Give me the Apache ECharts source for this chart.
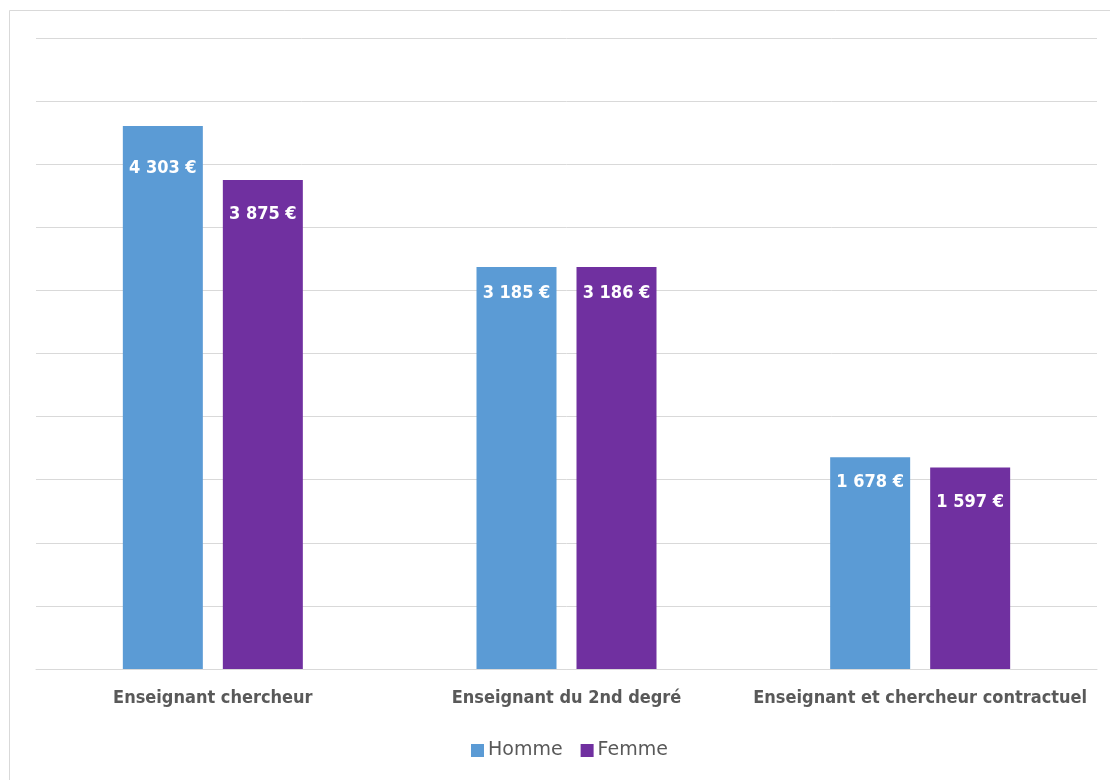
<!DOCTYPE html>
<html>
<head>
<meta charset="utf-8">
<style>
  html, body { margin: 0; padding: 0; background: #ffffff; }
  #chart { width: 1110px; height: 780px; }
</style>
<script src="https://cdn.jsdelivr.net/npm/echarts@6/dist/echarts.min.js"></script>
</head>
<body>
<div id="chart"></div>
<script>
// Salaire net mensuel moyen par statut et par sexe
const categories = ['Enseignant chercheur', 'Enseignant du 2nd degré', 'Enseignant et chercheur contractuel'];
const homme = [4303, 3185, 1678];
const femme = [3875, 3186, 1597];
const seriesNames = ['Homme', 'Femme'];

// Vertical drop of each value label below its bar top
const hommeLabelDrop = [33, 17, 16];
const femmeLabelDrop = [25, 17, 26];

const BOLD_FONT = '"DejaVu Sans Condensed", "DejaVu Sans", sans-serif';
const LEGEND_FONT = '"DejaVu Sans", sans-serif';

function euro(v) {
  return String(v).replace(/\B(?=(\d{3})+(?!\d))/g, ' ') + ' €';
}

function buildData(values, drops) {
  return values.map((v, i) => ({
    value: v,
    label: { distance: drops[i] }
  }));
}

const labelStyle = {
  show: true,
  position: 'insideTop',
  color: '#ffffff',
  fontFamily: BOLD_FONT,
  fontWeight: 'bold',
  fontSize: 18,
  formatter: p => euro(p.value)
};

const chart = echarts.init(document.getElementById('chart'), null, { renderer: 'canvas' });
chart.setOption({
  animation: false,
  backgroundColor: '#ffffff',
  graphic: [{
    type: 'rect',
    shape: { x: 9.5, y: 10.5, width: 1200, height: 900 },
    style: { fill: 'none', stroke: '#d9d9d9', lineWidth: 1 },
    silent: true
  }],
  grid: { left: 36, right: 13, top: 38, bottom: 111, containLabel: false },
  legend: {
    data: seriesNames,
    top: 736,
    left: 466,
    itemWidth: 13,
    itemHeight: 13,
    itemGap: 18,
    icon: 'rect',
    textStyle: { color: '#595959', fontSize: 19, fontFamily: LEGEND_FONT, padding: [0, 0, 0, -1] }
  },
  xAxis: {
    type: 'category',
    data: categories,
    axisLine: { lineStyle: { color: '#d9d9d9', width: 1 } },
    axisTick: { show: false },
    axisLabel: {
      color: '#595959',
      fontFamily: BOLD_FONT,
      fontWeight: 'bold',
      fontSize: 18,
      margin: 20,
      interval: 0
    }
  },
  yAxis: {
    type: 'value',
    min: 0,
    max: 5000,
    interval: 500,
    axisLabel: { show: false },
    axisLine: { show: false },
    axisTick: { show: false },
    splitLine: { lineStyle: { color: '#d9d9d9', width: 1 } }
  },
  series: [
    {
      name: seriesNames[0],
      type: 'bar',
      data: buildData(homme, hommeLabelDrop),
      barWidth: 80,
      barGap: '25%',
      itemStyle: { color: '#5b9bd5' },
      label: labelStyle
    },
    {
      name: seriesNames[1],
      type: 'bar',
      data: buildData(femme, femmeLabelDrop),
      barWidth: 80,
      itemStyle: { color: '#7030a0' },
      label: labelStyle
    }
  ]
});
</script>
</body>
</html>
